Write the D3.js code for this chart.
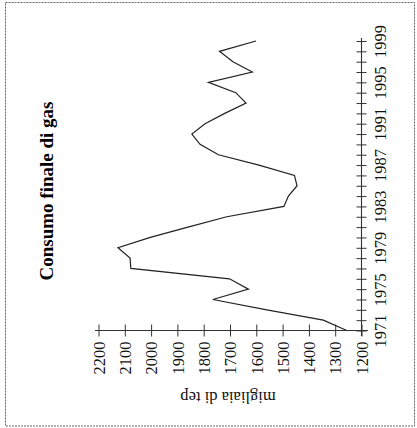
<!DOCTYPE html>
<html>
<head>
<meta charset="utf-8">
<script src="https://cdn.jsdelivr.net/npm/d3@7"></script>
<style>
html,body{margin:0;padding:0;background:#fff;}
svg{display:block;}
</style>
</head>
<body>
<svg id="chart" width="417" height="428"></svg>
<script>
const title = "Consumo finale di gas";
const unitLabel = "migliaia di tep";
const years = [1971,1972,1973,1974,1975,1976,1977,1978,1979,1980,1981,1982,1983,1984,1985,1986,1987,1988,1989,1990,1991,1992,1993,1994,1995,1996,1997,1998,1999];
const consumo = [1256,1345,1560,1765,1630,1702,2077,2080,2126,2003,1860,1712,1495,1478,1445,1455,1590,1744,1814,1845,1795,1720,1639,1678,1782,1615,1689,1740,1601];
const valueTicks = [2200,2100,2000,1900,1800,1700,1600,1500,1400,1300,1200];
const yearLabels = [1971,1975,1979,1983,1987,1991,1995,1999];

const svg = d3.select("#chart");
const serif = "'Liberation Serif','DejaVu Serif',serif";

// frame
svg.append("rect").attr("x",5.5).attr("y",2.5).attr("width",409).attr("height",423.5)
  .attr("fill","none").attr("stroke","#666").attr("stroke-width",1).attr("stroke-dasharray","2,1");

// scales (chart rotated: years vertical, values horizontal)
const yYear = d3.scaleLinear().domain([1971,1999]).range([330.5,41]);
const xVal = d3.scaleLinear().domain([1200,2200]).range([361.5,98.5]);

// value axis (horizontal)
const gv = svg.append("g").attr("transform","translate(0,330.5)");
gv.call(d3.axisBottom(xVal).tickValues(valueTicks).tickSize(0).tickFormat(d3.format("d")));
gv.select(".domain").remove();
gv.append("line").attr("x1",95).attr("x2",368).attr("stroke","#333").attr("stroke-width",1.1);
gv.selectAll(".tick line").attr("y1",-6).attr("y2",6).attr("stroke","#333");
gv.selectAll(".tick text")
  .attr("transform","rotate(-90)")
  .attr("x",-11).attr("y",0).attr("dy","0.35em")
  .attr("text-anchor","end")
  .attr("font-family",serif).attr("font-size",16.5).attr("fill","#111");

// year axis (vertical)
const gy = svg.append("g").attr("transform","translate(361.5,0)");
gy.call(d3.axisRight(yYear).tickValues(years).tickSize(0)
  .tickFormat(d => yearLabels.includes(d) ? String(d) : ""));
gy.select(".domain").remove();
gy.append("line").attr("y1",38).attr("y2",336).attr("stroke","#333").attr("stroke-width",1.1);
gy.selectAll(".tick line").attr("x1",-5).attr("x2",5).attr("stroke","#333");
gy.selectAll(".tick text")
  .attr("transform","rotate(-90)")
  .attr("x",0).attr("y",19).attr("dy","0.35em")
  .attr("text-anchor","middle")
  .attr("font-family",serif).attr("font-size",16.5).attr("fill","#111");

// data line
const line = d3.line().x((d,i)=>xVal(consumo[i])).y((d,i)=>yYear(years[i]));
svg.append("path").datum(years).attr("d",line)
  .attr("fill","none").attr("stroke","#222").attr("stroke-width",1.2).attr("stroke-linejoin","miter");

// title
svg.append("text").attr("transform","translate(53,191) rotate(-90)")
  .attr("text-anchor","middle").attr("font-family",serif).attr("font-weight","bold")
  .attr("font-size",19).attr("fill","#000").text(title);

// unit label (upside down)
svg.append("text").attr("transform","translate(228,398) rotate(180)")
  .attr("text-anchor","middle").attr("dy","0.35em").attr("font-family",serif)
  .attr("font-size",16.5).attr("fill","#111").text(unitLabel);
</script>
</body>
</html>
